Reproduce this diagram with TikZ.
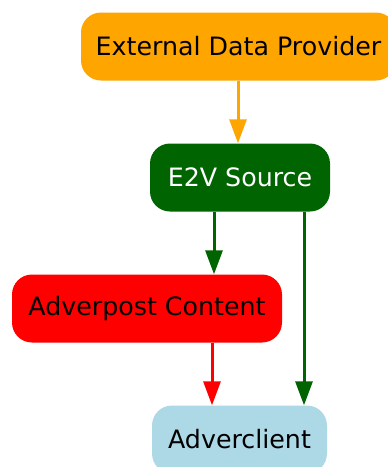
\documentclass[tikz,border=0pt]{standalone}
\usepackage{fontspec}
\setmainfont{DejaVu Sans}
\usetikzlibrary{arrows.meta}
\definecolor{provorange}{HTML}{FFA500}
\definecolor{srcgreen}{HTML}{006400}
\definecolor{contentred}{HTML}{FF0000}
\definecolor{clientblue}{HTML}{ADD8E6}
\tikzset{
  box/.style={rounded corners=20pt, inner sep=0pt, minimum height=68pt,
    font=\fontsize{25.3}{28}\selectfont, text=black},
  flow/.style={line width=3pt, -{Triangle[length=24pt,width=17pt]}}
}
\begin{document}
\begin{tikzpicture}[x=1pt,y=-1pt]
  \useasboundingbox (0,0) rectangle (388,467);
  \clip (0,0) rectangle (388,467);
  \node[box, fill=provorange, minimum width=315pt] (edp) at (238.5,46.5) {External Data Provider};
  \node[box, fill=srcgreen, text=white, minimum width=180pt] (e2v) at (240,177.5) {E2V Source};
  \node[box, fill=contentred, minimum width=270pt] (apc) at (147,308.5) {Adverpost Content};
  \node[box, fill=clientblue, minimum width=175pt] (acl) at (239.5,439.5) {Adverclient};

  \draw[flow, provorange] ([xshift=-0.5pt]edp.south) -- ([xshift=-0.5pt]edp.south |- e2v.north);
  \draw[flow, srcgreen] ([xshift=-26pt]e2v.south) -- ([xshift=-26pt]e2v.south |- apc.north);
  \draw[flow, srcgreen] ([xshift=64pt]e2v.south) -- ([xshift=64pt]e2v.south |- acl.north);
  \draw[flow, contentred] ([xshift=65pt]apc.south) -- ([xshift=65pt]apc.south |- acl.north);
\end{tikzpicture}
\end{document}
